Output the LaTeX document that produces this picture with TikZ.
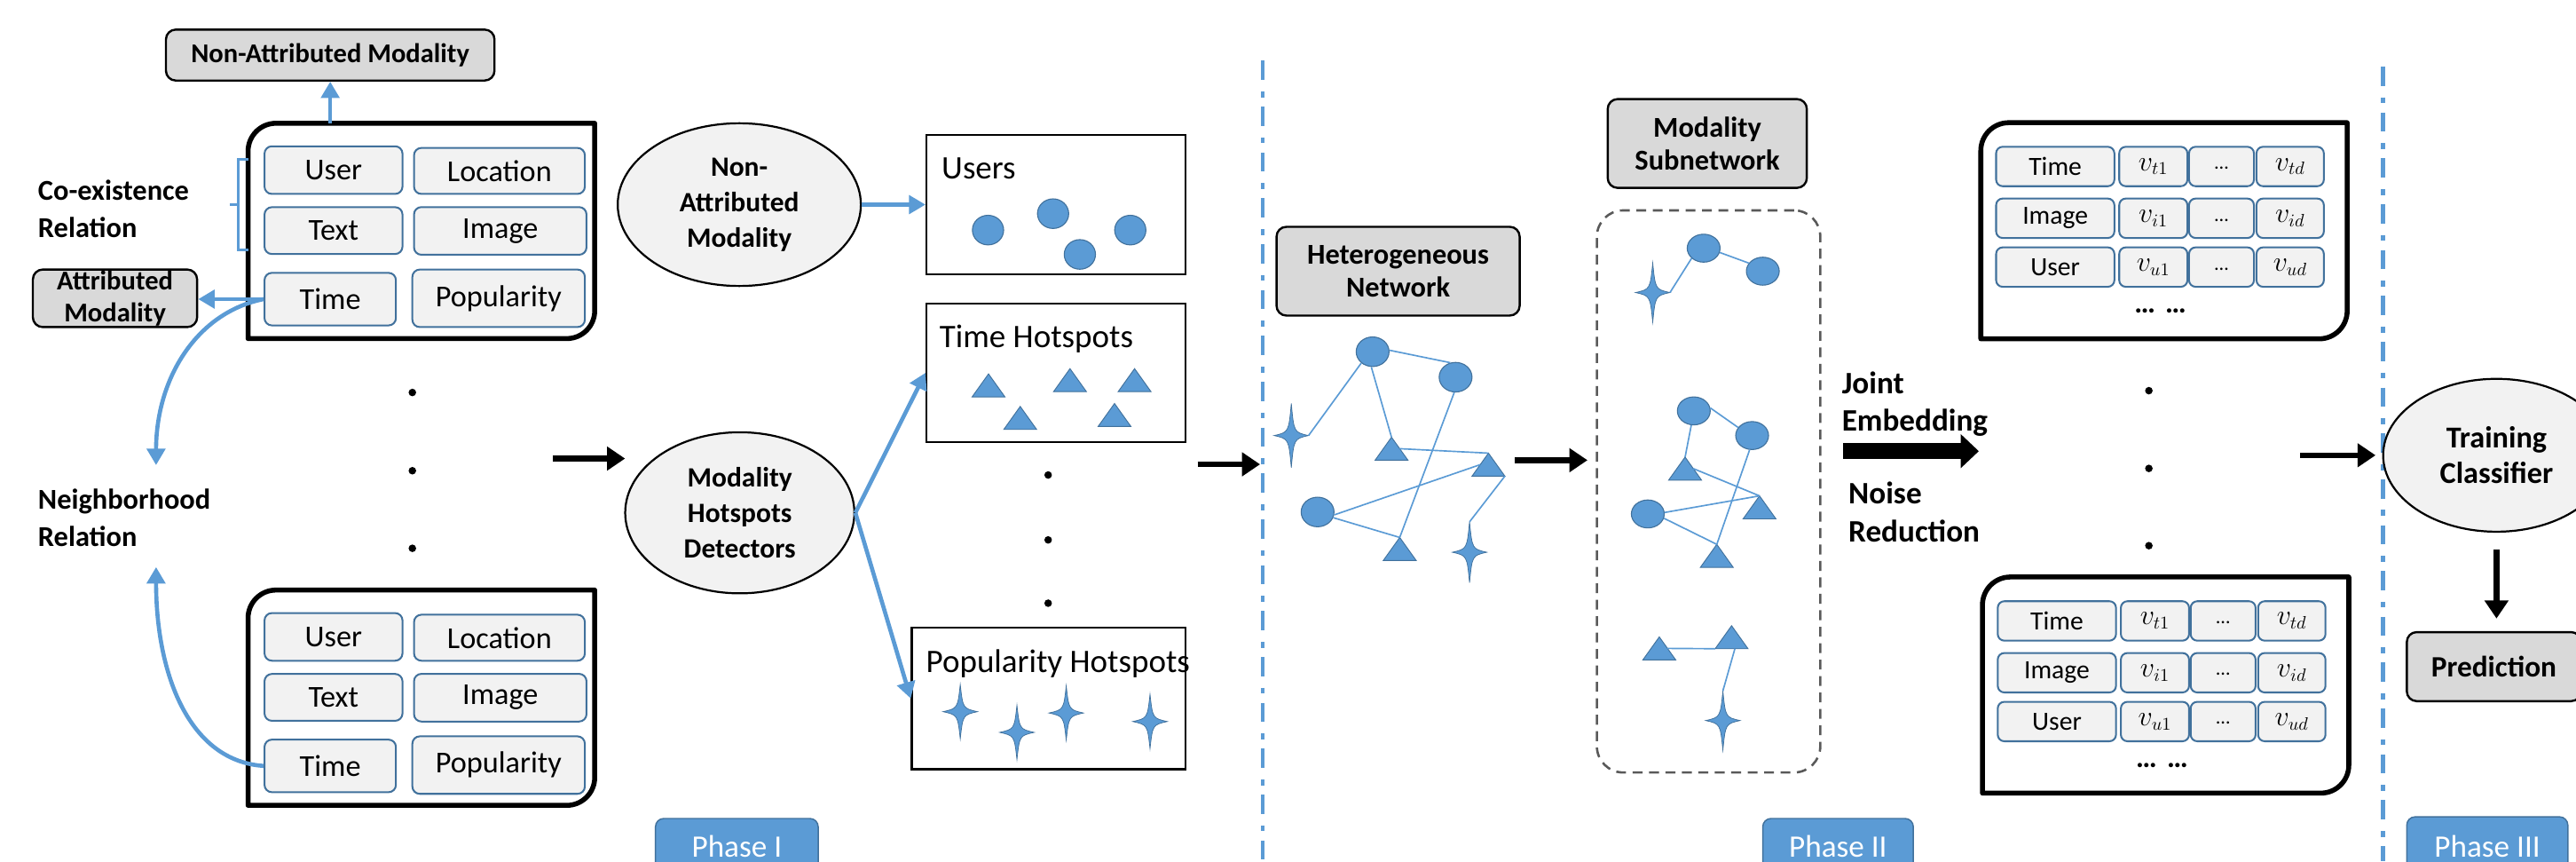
\documentclass[tikz,border=0pt]{standalone}
\usepackage{fontspec}
\setmainfont{Carlito}
\usetikzlibrary{arrows.meta,shapes.geometric,calc}
\definecolor{oblue}{HTML}{5B9BD5}
\definecolor{oedge}{HTML}{41719C}
\definecolor{cellfill}{HTML}{F2F2F2}
\definecolor{grayfill}{HTML}{D9D9D9}
\definecolor{dashgray}{HTML}{595959}
\newcommand{\mysnipframe}[1]{%
  \draw[bigline] ($(#1.north west)+(0,17)$) .. controls ($(#1.north west)+(0,7.6)$) and ($(#1.north west)+(7.6,0)$) .. ($(#1.north west)+(17,0)$) -- (#1.north east) -- ($(#1.south east)+(0,-17)$) .. controls ($(#1.south east)+(0,-7.6)$) and ($(#1.south east)+(-7.6,0)$) .. ($(#1.south east)+(-17,0)$) -- (#1.south west) -- cycle;}
\tikzset{
  bigline/.style={draw=black, line width=3pt, fill=white, line join=round},
  holder/.style={inner sep=0pt, outer sep=0pt},
  cellbox/.style={draw=oedge, line width=1.1pt, fill=cellfill, rounded corners=4.5pt, inner sep=0pt, font=\fontsize{18.5}{20}\selectfont},
  tcell/.style={draw=oedge, line width=1.1pt, fill=cellfill, rounded corners=4pt, inner sep=0pt, minimum height=24pt, font=\fontsize{16}{18}\selectfont},
  graybox/.style={draw=black, line width=1.3pt, fill=grayfill, rounded corners=6pt, inner sep=0pt, align=center, font=\fontsize{17.5}{20}\selectfont\bfseries},
  framebox/.style={draw=black, line width=1.3pt, fill=white, inner sep=0pt},
  oval/.style={ellipse, draw=black, line width=1.2pt, fill=cellfill, inner sep=0pt, align=center, font=\fontsize{17}{21.6}\selectfont\bfseries},
  lbl/.style={inner sep=0pt, align=left, font=\fontsize{17.5}{22.5}\selectfont\bfseries},
  lblbig/.style={inner sep=0pt, align=left, font=\fontsize{19}{23}\selectfont\bfseries},
  plaintwenty/.style={inner sep=0pt, font=\fontsize{20}{24}\selectfont},
  vdot/.style={circle, fill=black, inner sep=0pt, minimum size=4.6pt},
  bnode/.style={ellipse, fill=oblue, draw=oedge, line width=0.6pt, inner sep=0pt, minimum width=20pt, minimum height=18pt},
  netedge/.style={draw=oblue, line width=0.9pt},
  blarrow/.style={draw=oblue, line width=2.5pt, -{Triangle[width=11pt,length=10pt]}},
  barrow/.style={draw=black, line width=3.5pt, -{Triangle[width=14pt,length=11pt]}},
  phasebox/.style={fill=oblue, draw=oedge, line width=0.8pt, rounded corners=5pt, inner sep=0pt, text=white, font=\fontsize{19}{19}\selectfont},
  vsep/.style={draw=oblue, line width=2.5pt, dash pattern=on 11.7pt off 7pt on 3.6pt off 5.6pt},
  dbox/.style={draw=dashgray, line width=1.4pt, dash pattern=on 6pt off 4pt, rounded corners=16pt, inner sep=0pt},
  pics/tri/.style={code={
    \fill[oblue, draw=oedge, line width=0.5pt] (0,-7) -- (10,7) -- (-10,7) -- cycle;
    \coordinate (-a) at (0,-7); \coordinate (-l) at (-10,7); \coordinate (-r) at (10,7);
    \coordinate (-ls) at (-5,0); \coordinate (-rs) at (5,0); \coordinate (-b) at (2,7);
  }},
  pics/star4/.style={code={
    \fill[oblue, draw=oedge, line width=0.4pt] (0,-#1) .. controls (1.6,-2) .. (10.5,0) .. controls (1.6,2) .. (0,#1) .. controls (-1.6,2) .. (-10.5,0) .. controls (-1.6,-2) .. cycle;
    \coordinate (-t) at (0,-#1); \coordinate (-b) at (0,#1); \coordinate (-l) at (-10.5,0); \coordinate (-r) at (10.5,0);
  }},
}
\begin{document}
\begin{tikzpicture}[x=1pt,y=-1pt]
\useasboundingbox (0,0) rectangle (1568,524);
\clip (0,0) rectangle (1568,524);

% phase separators
\coordinate (sepAt) at (768.5,37); \coordinate (sepAb) at (768.5,524);
\coordinate (sepBt) at (1450.5,40.5); \coordinate (sepBb) at (1450.5,524);
\draw[vsep] (sepAt) -- (sepAb);
\draw[vsep] (sepBt) -- (sepBb);

% ---------- Phase I, left column ----------
\node[holder, minimum width=211pt, minimum height=131pt] (boxA) at (256.5,140.5) {};
\mysnipframe{boxA}
\node[holder, minimum width=211pt, minimum height=131pt] (boxB) at (256.5,424.5) {};
\mysnipframe{boxB}
\foreach \bx/\dy in {A/0, B/284} {
  \node[cellbox, minimum width=84pt, minimum height=29pt] (user\bx) at (203,103.5+\dy) {User};
  \node[cellbox, minimum width=104pt, minimum height=28pt] (loc\bx) at (304,104+\dy) {Location};
  \node[cellbox, minimum width=84pt, minimum height=28.5pt] (text\bx) at (203,140.3+\dy) {Text};
  \node[cellbox, minimum width=105pt, minimum height=29pt] (img\bx) at (304.5,140.5+\dy) {Image};
  \node[cellbox, minimum width=80pt, minimum height=32pt] (time\bx) at (201,182+\dy) {Time};
  \node[cellbox, minimum width=105pt, minimum height=35pt] (pop\bx) at (303.5,181.5+\dy) {Popularity};
}

\node[graybox, minimum width=200pt, minimum height=31pt, font=\fontsize{16.5}{20}\selectfont\bfseries] (namod) at (201,33.5) {Non-Attributed Modality};
\draw[blarrow] (namod.south |- boxA.north) -- (namod.south);

\node[graybox, minimum width=100pt, minimum height=35pt, font=\fontsize{16.5}{19.5}\selectfont\bfseries] (attmod) at (70,181.5) {Attributed\\Modality};
\draw[blarrow] (timeA.west) -- (timeA.west -| attmod.east);

\node[lbl, anchor=west] (coex) at (23,127.2) {Co-existence\\Relation};
\coordinate (brTop) at (151,97); \coordinate (brBot) at (151,152);
\draw[draw=oblue, line width=2pt] (brTop) -- (145,97) -- (145,152) -- (brBot) (145,124.5) -- (140,124.5);

\node[lbl, anchor=west] (nbr) at (23,315.2) {Neighborhood\\Relation};
\coordinate (nrTop) at (95,283);
\coordinate (nrBot) at (95,345);
\draw[blarrow] (timeA.west) .. controls (120,190) and (95,230) .. (nrTop);
\draw[blarrow] (timeB.west) .. controls (115,463) and (95,410) .. (nrBot);

\node[vdot] (ldA) at (251,238.8) {};
\node[vdot] (ldB) at (251,286.4) {};
\node[vdot] (ldC) at (251,333.6) {};

\coordinate (aOnes) at (336.5,279); \coordinate (aOnee) at (380.5,279);
\draw[barrow] (aOnes) -- (aOnee);

% ---------- Phase I, middle ----------
\node[oval, minimum width=148pt, minimum height=99pt] (naoval) at (450,124.5) {Non-\\Attributed\\Modality};
\node[oval, minimum width=139.5pt, minimum height=98pt] (mhd) at (450.3,312) {Modality\\Hotspots\\Detectors};

\node[framebox, minimum width=157.6pt, minimum height=85pt] (usersbox) at (642.8,124.5) {};
\node[plaintwenty, anchor=base west] (userslbl) at (573,109) {Users};
\node[bnode, minimum width=19pt] (uc1) at (601.4,140) {};
\node[bnode, minimum width=19pt] (uc2) at (641,130) {};
\node[bnode, minimum width=19pt] (uc3) at (657.3,154.8) {};
\node[bnode, minimum width=19pt] (uc4) at (688,140) {};

\node[framebox, minimum width=157.6pt, minimum height=84.4pt] (timebox) at (642.8,226.8) {};
\node[plaintwenty, anchor=base west] (timelbl) at (571.7,211.4) {Time Hotspots};
\pic (th1) at (601.7,234.5) {tri};
\pic (th2) at (651.3,231.3) {tri};
\pic (th3) at (690.6,231.3) {tri};
\pic (th4) at (621,254.3) {tri};
\pic (th5) at (678.4,252.5) {tri};

\node[vdot] (mdA) at (638,289) {};
\node[vdot] (mdB) at (638,328.5) {};
\node[vdot] (mdC) at (638,367) {};

\node[framebox, minimum width=166.6pt, minimum height=86pt] (popbox) at (638.3,425) {};
\node[plaintwenty, anchor=base west] (poplbl) at (563.5,409.4) {Popularity Hotspots};
\pic (ps1) at (584.5,433) {star4=16.5};
\pic (ps2) at (619,445.6) {star4=16.5};
\pic (ps3) at (649,433.8) {star4=16.5};
\pic (ps4) at (700,439) {star4=16.5};

\draw[blarrow] (naoval.east) -- (usersbox.west);
\draw[blarrow] (mhd.east) -- (timebox.west);
\draw[blarrow] (mhd.east) -- (popbox.west);

\node[phasebox, minimum width=99pt, minimum height=34pt] (phA) at (448.5,515) {Phase I};

\coordinate (aTwos) at (729,282.5); \coordinate (aTwoe) at (767,282.5);
\draw[barrow] (aTwos) -- (aTwoe);

% ---------- Phase II ----------
\node[graybox, minimum width=148pt, minimum height=54pt] (hetero) at (851,165) {Heterogeneous\\Network};

\node[bnode] (hA) at (835.5,214) {};
\node[bnode] (hB) at (886,229.5) {};
\node[bnode] (hC) at (802,311.5) {};
\pic (hS1) at (786,265) {star4=19.5};
\pic (hS2) at (894.5,336) {star4=18.5};
\pic (hT1) at (847,273) {tri};
\pic (hT2) at (906,282.7) {tri};
\pic (hT3) at (852,334) {tri};
\draw[netedge] (hS1-r) -- (hA.225);
\draw[netedge] (hA.5) -- (hB.110);
\draw[netedge] (hA.-95) -- (hT1-a);
\draw[netedge] (hB.-95) -- (hT3-a);
\draw[netedge] (hT1-rs) -- (hT2-a);
\draw[netedge] (hT2-ls) -- (hC.-10);
\draw[netedge] (hC.-20) -- (hT3-a);
\draw[netedge] (hT2-r) -- (hS2-t);

\coordinate (aThrees) at (922,280);
\node[dbox, minimum width=136pt, minimum height=342pt] (subnet) at (1040,299) {};
\draw[barrow, shorten >=5pt] (aThrees) -- (aThrees -| subnet.west);

\node[graybox, minimum width=121.2pt, minimum height=54pt] (msub) at (1039.2,87.3) {Modality\\Subnetwork};

\pic (sS1) at (1006,178) {star4=18};
\node[bnode, minimum height=17pt] (sC1) at (1037,151) {};
\node[bnode, minimum height=17pt] (sC2) at (1073,165) {};
\node[bnode, minimum height=17pt] (sC3) at (1031,250) {};
\node[bnode, minimum height=17pt] (sC4) at (1066.5,265) {};
\node[bnode, minimum height=17pt] (sC5) at (1003,312.7) {};
\pic (sT1) at (1025.7,285.1) {tri};
\pic (sT2) at (1071,308.7) {tri};
\pic (sT3) at (1045,338.2) {tri};
\pic (sT4) at (1010,394.5) {tri};
\pic (sT5) at (1054,387.7) {tri};
\pic (sS2) at (1048.7,438.4) {star4=18};
\draw[netedge] (sS1-r) -- (sC1.220);
\draw[netedge] (sC1.-15) -- (sC2.150);
\draw[netedge] (sC3.10) -- (sC4.150);
\draw[netedge] (sC3.-100) -- (sT1-a);
\draw[netedge] (sC4.-100) -- (sT3-a);
\draw[netedge] (sT1-rs) -- (sT2-a);
\draw[netedge] (sC5.5) -- (sT2-a);
\draw[netedge] (sC5.-15) -- (sT3-a);
\draw[netedge] (sT4-rs) -- (sT5-l);
\draw[netedge] (sT5-b) -- (sS2-t);

\node[lblbig, anchor=west] (joint) at (1121,245.9) {Joint\\Embedding};
\coordinate (jes) at (1122,274.5); \coordinate (jee) at (1204.5,274.5);
\draw[line width=10pt, -{Triangle[width=20pt,length=11pt]}] (jes) -- (jee);
\node[lblbig, anchor=west] (noise) at (1125,311.5) {Noise\\Reduction};

% embedding tables
\node[holder, minimum width=223pt, minimum height=131.5pt] (tabA) at (1317.2,140.4) {};
\mysnipframe{tabA}
\node[holder, minimum width=223pt, minimum height=131.5pt] (tabB) at (1318.2,416.8) {};
\mysnipframe{tabB}
\foreach \tb/\dx/\dy in {A/0/0, B/1/276.5} {
  \foreach \lab/\subl/\yy in {Time/t/101.3, Image/i/132.8, User/u/162.5} {
    \node[tcell, minimum width=72pt] (\tb\subl0) at (1251+\dx,\yy+\dy) {\lab};
    \node[tcell, minimum width=41.5pt] (\tb\subl1) at (1310.7+\dx,\yy+\dy) {$v_{\subl1}$};
    \node[tcell, minimum width=39.5pt] (\tb\subl2) at (1352.2+\dx,\yy+\dy) {\fontsize{12}{12}\selectfont\raisebox{-3.5pt}{…}};
    \node[tcell, minimum width=41pt] (\tb\subl3) at (1394+\dx,\yy+\dy) {$v_{\subl d}$};
  }
}
\node[inner sep=0pt, font=\fontsize{18}{18}\selectfont\bfseries] (moreA) at (1315,189) {…\hspace{6pt}…};
\node[inner sep=0pt, font=\fontsize{18}{18}\selectfont\bfseries] (moreB) at (1316,465.6) {…\hspace{6pt}…};

\node[vdot] (rdA) at (1308,237.7) {};
\node[vdot] (rdB) at (1308,285) {};
\node[vdot] (rdC) at (1308,332) {};

\node[phasebox, minimum width=91.6pt, minimum height=34pt] (phB) at (1118.8,515) {Phase II};

% ---------- Phase III ----------
\node[oval, minimum width=138pt, minimum height=93pt, font=\fontsize{18.5}{21.6}\selectfont\bfseries] (tc) at (1519.6,277) {Training\\Classifier};
\coordinate (aFours) at (1400,277);
\draw[barrow, shorten >=4pt] (aFours) -- (tc.west);
\node[graybox, minimum width=106pt, minimum height=42pt, font=\fontsize{18}{20}\selectfont\bfseries] (pred) at (1518,405.6) {Prediction};
\draw[barrow, shorten <=10.5pt, shorten >=7.6pt] (tc.south) -- (tc.south |- pred.north);

\node[phasebox, minimum width=98pt, minimum height=36pt] (phC) at (1514,515) {Phase III};
\end{tikzpicture}
\end{document}
